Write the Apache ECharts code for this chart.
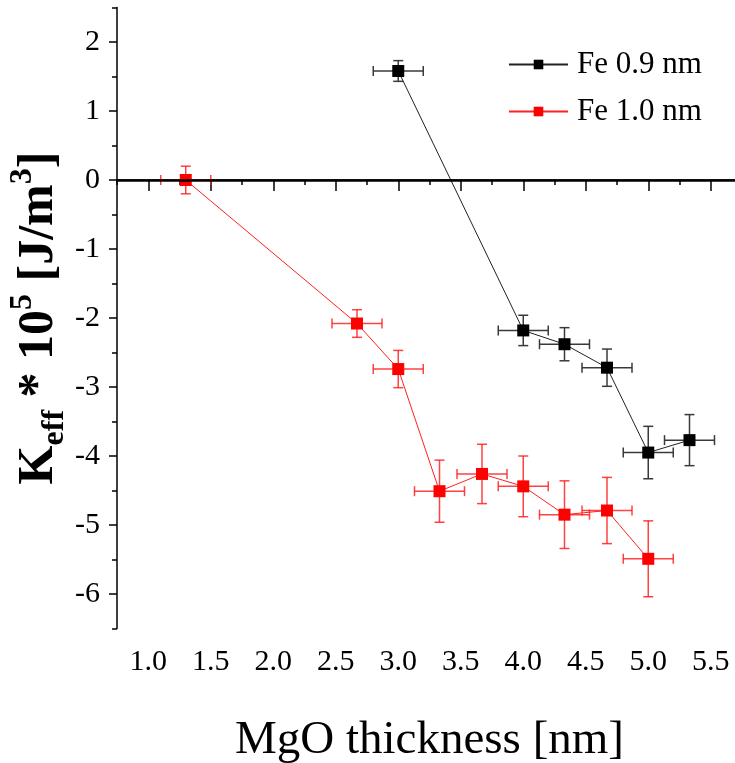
<!DOCTYPE html>
<html>
<head>
<meta charset="utf-8">
<script src="https://cdn.jsdelivr.net/npm/echarts@6/dist/echarts.min.js"></script>
<style>html,body{margin:0;padding:0;background:#fff}#c{width:735px;height:763px}</style>
</head>
<body>
<div id="c"></div>
<script>
// ---- data ----
const seriesNames = ['Fe 0.9 nm', 'Fe 1.0 nm'];
const x09 = [3.0, 4.0, 4.33, 4.67, 5.0, 5.33];
const k09 = [1.58, -2.18, -2.38, -2.72, -3.95, -3.77];
const xErr09 = [0.2, 0.2, 0.2, 0.2, 0.2, 0.2];
const yErr09 = [0.15, 0.22, 0.24, 0.27, 0.38, 0.37];

const x10 = [1.3, 2.67, 3.0, 3.33, 3.67, 4.0, 4.33, 4.67, 5.0];
const k10 = [0.0, -2.08, -2.74, -4.51, -4.26, -4.44, -4.85, -4.79, -5.49];
const xErr10 = [0.2, 0.2, 0.2, 0.2, 0.2, 0.2, 0.2, 0.2, 0.2];
const yErr10 = [0.2, 0.2, 0.27, 0.45, 0.43, 0.44, 0.49, 0.48, 0.55];

const xTicks = [1.0, 1.5, 2.0, 2.5, 3.0, 3.5, 4.0, 4.5, 5.0, 5.5];
const xMinorTicks = [0.75, 1.25, 1.75, 2.25, 2.75, 3.25, 3.75, 4.25, 4.75, 5.25, 5.75];
const yTicks = [-6, -5, -4, -3, -2, -1, 0, 1, 2];
const yMinorTicks = [-6.5, -5.5, -4.5, -3.5, -2.5, -1.5, -0.5, 0.5, 1.5, 2.5];

// ---- build ----
const FONT = "'Liberation Serif','Times New Roman',serif";
function pts(xs, ys) { return xs.map((x, i) => [x, ys[i]]); }
function errData(xs, ys, ex, ey) { return xs.map((x, i) => [x, ys[i], ex[i], ey[i]]); }
function errRenderer(color) {
  return function (params, api) {
    const x = api.value(0), y = api.value(1), ex = api.value(2), ey = api.value(3);
    const l = api.coord([x - ex, y]), r = api.coord([x + ex, y]);
    const t = api.coord([x, y + ey]), b = api.coord([x, y - ey]);
    const cap = 5;
    const style = { stroke: color, lineWidth: 1.5, fill: null };
    const ln = (x1, y1, x2, y2) => ({ type: 'line', shape: { x1, y1, x2, y2 }, style });
    return {
      type: 'group',
      children: [
        ln(l[0], l[1], r[0], r[1]),
        ln(l[0], l[1] - cap, l[0], l[1] + cap),
        ln(r[0], r[1] - cap, r[0], r[1] + cap),
        ln(t[0], t[1], b[0], b[1]),
        ln(t[0] - cap, t[1], t[0] + cap, t[1]),
        ln(b[0] - cap, b[1], b[0] + cap, b[1])
      ]
    };
  };
}

const chart = echarts.init(document.getElementById('c'), null, { renderer: 'canvas' });
const axisLineStyle = { color: '#000', width: 1.5 };
chart.setOption({
  animation: false,
  backgroundColor: '#fff',
  grid: { left: 117, top: 7.5, right: -7, bottom: 134.5, containLabel: false, outerBoundsMode: 'none' },
  legend: {
    orient: 'vertical',
    left: 503, top: 44,
    itemWidth: 59, itemHeight: 12, itemGap: 16,
    data: seriesNames,
    textStyle: { fontFamily: FONT, fontSize: 31, color: '#000', padding: [0, 0, 0, 4] }
  },
  xAxis: [{
    type: 'value', min: 0.75, max: 5.75, position: 'bottom',
    name: 'MgO thickness [nm]', nameLocation: 'middle', nameGap: 89, nameMoveOverlap: false,
    nameTextStyle: { fontFamily: FONT, fontSize: 47, color: '#000' },
    axisLine: { show: true, lineStyle: axisLineStyle },
    axisTick: { show: true, inside: false, length: 11, lineStyle: { color: '#000', width: 1.5 }, customValues: xTicks },
    axisLabel: { fontFamily: FONT, fontSize: 30, color: '#000', margin: 19, customValues: xTicks, formatter: v => v.toFixed(1) },
    splitLine: { show: false }
  }, {
    type: 'value', min: 0.75, max: 5.75, position: 'bottom',
    axisLine: { show: false },
    axisTick: { show: true, inside: false, length: 5, lineStyle: { color: '#000', width: 1.5 }, customValues: xMinorTicks },
    axisLabel: { show: false },
    splitLine: { show: false }
  }],
  yAxis: [{
    type: 'value', min: -6.5, max: 2.5, position: 'left',
    name: '{b|K}{s|eff}{b| * 10}{u|5}{b| [J/m}{u|3}{b|]}',
    nameLocation: 'middle', nameGap: 46, nameRotate: 90, nameMoveOverlap: false,
    nameTextStyle: {
      fontFamily: FONT, color: '#000',
      rich: {
        b: { fontFamily: FONT, fontSize: 50, fontWeight: 'bold', color: '#000', lineHeight: 64, verticalAlign: 'middle' },
        s: { fontFamily: FONT, fontSize: 32, fontWeight: 'bold', color: '#000', lineHeight: 64, verticalAlign: 'bottom' },
        u: { fontFamily: FONT, fontSize: 32, fontWeight: 'bold', color: '#000', lineHeight: 64, verticalAlign: 'top' }
      }
    },
    axisLine: { show: true, lineStyle: axisLineStyle },
    axisTick: { show: true, inside: false, length: 8, lineStyle: { color: '#000', width: 1.5 }, customValues: yTicks },
    axisLabel: { fontFamily: FONT, fontSize: 30, color: '#000', margin: 17, customValues: yTicks },
    splitLine: { show: false }
  }, {
    type: 'value', min: -6.5, max: 2.5, position: 'left',
    axisLine: { show: false },
    axisTick: { show: true, inside: false, length: 5, lineStyle: { color: '#000', width: 1.5 }, customValues: yMinorTicks },
    axisLabel: { show: false },
    splitLine: { show: false }
  }],
  series: [
    {
      type: 'custom', name: 'err09', xAxisIndex: 0, yAxisIndex: 0,
      renderItem: errRenderer('#3a3a3a'),
      encode: { x: 0, y: 1 }, data: errData(x09, k09, xErr09, yErr09), z: 2, silent: true
    },
    {
      type: 'custom', name: 'err10', xAxisIndex: 0, yAxisIndex: 0,
      renderItem: errRenderer('rgba(255,20,20,0.8)'),
      encode: { x: 0, y: 1 }, data: errData(x10, k10, xErr10, yErr10), z: 2, silent: true
    },
    {
      type: 'line', name: seriesNames[0], xAxisIndex: 0, yAxisIndex: 0,
      data: pts(x09, k09), symbol: 'rect', symbolSize: 12,
      itemStyle: { color: '#000' }, lineStyle: { color: '#222', width: 1 }, z: 3,
      markLine: {
        silent: true, symbol: 'none', label: { show: false },
        lineStyle: { color: '#000', width: 2.5, type: 'solid' },
        data: [{ yAxis: 0 }]
      }
    },
    {
      type: 'line', name: seriesNames[1], xAxisIndex: 0, yAxisIndex: 0,
      data: pts(x10, k10), symbol: 'rect', symbolSize: 12,
      itemStyle: { color: '#ff0000' }, lineStyle: { color: '#ff2020', width: 1 }, z: 3
    }
  ]
});
</script>
</body>
</html>
